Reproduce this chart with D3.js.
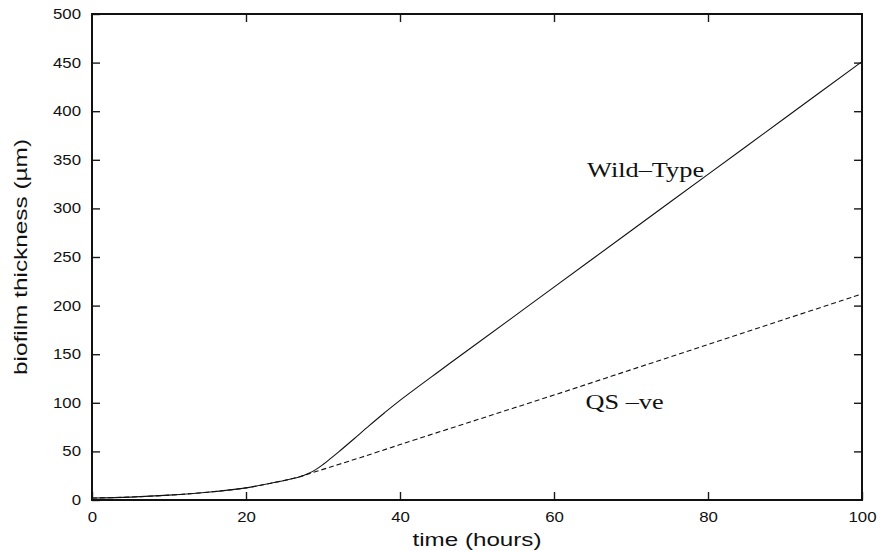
<!DOCTYPE html>
<html>
<head>
<meta charset="utf-8">
<script src="https://cdn.jsdelivr.net/npm/d3@7"></script>
<style>
  html, body { margin: 0; padding: 0; background: #fff; }
  svg { display: block; }
</style>
</head>
<body>
<svg id="chart" width="880" height="551"></svg>
<script>
// Time points (hours) and biofilm thickness (µm) for each strain
const wildTime  = [0, 5, 10, 15, 20, 24, 27, 28, 29, 30, 31, 32, 34, 36, 38, 40, 45, 50, 60, 70, 80, 90, 100];
const wildThick = [2, 3, 5, 8, 12.5, 18.5, 24, 27, 31, 36.5, 42.8, 49.3, 62.8, 76.5, 89.8, 102.5, 132, 161, 219, 277, 335, 393, 451];

const qsTime  = [0, 5, 10, 15, 20, 24, 27, 28, 30, 32, 35, 40, 50, 60, 70, 80, 90, 100];
const qsThick = [2, 3, 5, 8, 12.5, 18.5, 24, 26.5, 31.5, 36.5, 44, 57, 82.5, 108, 134, 160, 186, 212];

const xTicks = [0, 20, 40, 60, 80, 100];
const yTicks = [0, 50, 100, 150, 200, 250, 300, 350, 400, 450, 500];

const xLabel = "time (hours)";
const yLabel = "biofilm thickness (\u00b5m)";
const wildLabel = "Wild\u2013Type";
const qsLabel = "QS \u2013ve";

const svg = d3.select("#chart");
const plotLeft = 92, plotRight = 862, plotTop = 14, plotBottom = 500;

const x = d3.scaleLinear().domain([0, 100]).range([plotLeft, plotRight]);
const y = d3.scaleLinear().domain([0, 500]).range([plotBottom, plotTop]);

const sans = "'Liberation Sans', Arial, Helvetica, sans-serif";
const serif = "'Liberation Serif', 'Times New Roman', Times, serif";
const stretch = 1.2;

function styleAxis(g) {
  g.select(".domain").remove();
  g.selectAll(".tick line").attr("stroke", "#1a1a1a").attr("stroke-width", 1.4);
  g.selectAll(".tick text").attr("fill", "#111").attr("font-family", sans).attr("font-size", 14);
}

// bottom axis with labels
const gx = svg.append("g").attr("transform", `translate(0,${plotBottom})`)
  .call(d3.axisBottom(x).tickValues(xTicks).tickSizeInner(-8).tickSizeOuter(0).tickPadding(12));
styleAxis(gx);
gx.selectAll(".tick text").attr("transform", `scale(${stretch},1)`);

// left axis with labels
const gy = svg.append("g").attr("transform", `translate(${plotLeft},0)`)
  .call(d3.axisLeft(y).tickValues(yTicks).tickSizeInner(-8).tickSizeOuter(0).tickPadding(11));
styleAxis(gy);
gy.selectAll(".tick text").attr("x", -11 / stretch).attr("transform", `scale(${stretch},1)`);

// mirrored ticks on top and right
const gt = svg.append("g").attr("transform", `translate(0,${plotTop})`)
  .call(d3.axisTop(x).tickValues(xTicks.slice(1, -1)).tickSizeInner(-8).tickSizeOuter(0).tickFormat(""));
styleAxis(gt);
const gr = svg.append("g").attr("transform", `translate(${plotRight},0)`)
  .call(d3.axisRight(y).tickValues(yTicks.slice(1, -1)).tickSizeInner(-8).tickSizeOuter(0).tickFormat(""));
styleAxis(gr);

// plot frame
svg.append("rect")
  .attr("x", plotLeft).attr("y", plotTop)
  .attr("width", plotRight - plotLeft).attr("height", plotBottom - plotTop)
  .attr("fill", "none").attr("stroke", "#111").attr("stroke-width", 2);

// curves
const line = d3.line().x(d => x(d[0])).y(d => y(d[1])).curve(d3.curveCatmullRom.alpha(0.5));

svg.append("path")
  .datum(qsTime.map((t, i) => [t, qsThick[i]]))
  .attr("d", line)
  .attr("fill", "none").attr("stroke", "#111").attr("stroke-width", 1.1)
  .attr("stroke-dasharray", "5,3");

svg.append("path")
  .datum(wildTime.map((t, i) => [t, wildThick[i]]))
  .attr("d", line)
  .attr("fill", "none").attr("stroke", "#111").attr("stroke-width", 1.1);

// series labels
svg.append("text")
  .attr("x", x(64.3)).attr("y", 177)
  .attr("font-family", serif).attr("font-size", 21).attr("fill", "#111")
  .attr("textLength", 117).attr("lengthAdjust", "spacingAndGlyphs")
  .text(wildLabel);

svg.append("text")
  .attr("x", x(64.1)).attr("y", 409)
  .attr("font-family", serif).attr("font-size", 21).attr("fill", "#111")
  .attr("textLength", 78).attr("lengthAdjust", "spacingAndGlyphs")
  .text(qsLabel);

// axis titles
svg.append("text")
  .attr("x", (plotLeft + plotRight) / 2).attr("y", 546)
  .attr("text-anchor", "middle")
  .attr("font-family", sans).attr("font-size", 19).attr("fill", "#111")
  .attr("textLength", 129).attr("lengthAdjust", "spacingAndGlyphs")
  .text(xLabel);

svg.append("text")
  .attr("transform", `translate(27,${(plotTop + plotBottom) / 2}) rotate(-90)`)
  .attr("text-anchor", "middle")
  .attr("font-family", sans).attr("font-size", 19).attr("fill", "#111")
  .attr("textLength", 236).attr("lengthAdjust", "spacingAndGlyphs")
  .text(yLabel);
</script>
</body>
</html>
